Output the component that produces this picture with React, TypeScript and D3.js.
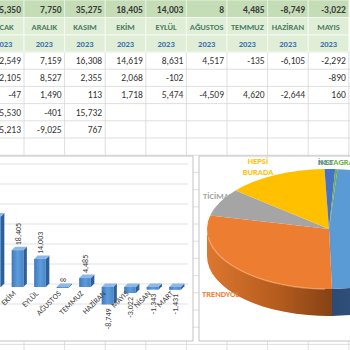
import * as d3 from 'd3';

// table (visible part of the sheet)
const months = ['OCAK', 'ARALIK', 'KASIM', 'EKİM', 'EYLÜL', 'AĞUSTOS', 'TEMMUZ', 'HAZİRAN', 'MAYIS'];
const totals = [55350, 7750, 35275, 18405, 14003, 8, 4485, -8749, -3022];
const years = ['2023', '2023', '2023', '2023', '2023', '2023', '2023', '2023', '2023'];
const rowA = [32549, 7159, 16308, 14619, 8631, 4517, -135, -6105, -2292];
const rowB = [12105, 8527, 2355, 2068, -102, null, null, null, -890];
const rowC = [-47, 1490, 113, 1718, 5474, -4509, 4620, -2644, 160];
const rowD = [5530, -401, 15732, null, null, null, null, null, null];
const rowE = [5213, -9025, 767, null, null, null, null, null, null];

// bar chart
const barCats = ['OCAK', 'ARALIK', 'KASIM', 'EKİM', 'EYLÜL', 'AĞUSTOS', 'TEMMUZ', 'HAZİRAN', 'MAYIS', 'NİSAN', 'MART'];
const barVals = [55350, 7750, 35275, 18405, 14003, 8, 4485, -8749, -3022, -1343, -1431];
const barTicks = [-10000, 0, 10000, 20000, 30000, 40000, 50000, 60000];

// pie chart
const pieNames = ['WEB SİTESİ', 'TRENDYOL', 'TİCİMAX', 'HEPSİ BURADA', 'N11', 'İNSTAGRAM'];
const pieVals = [48.5, 29, 7.5, 13.3, 1.4, 0.3];
const pieColors = ['#5b9bd5', '#ed7d31', '#a5a5a5', '#ffc000', '#4472c4', '#70ad47'];

const fmt = d3.formatLocale({ decimal: '.', thousands: ',', grouping: [3], currency: ['', ''], minus: '-' }).format(',');
const font = "Carlito, 'Liberation Sans Narrow', 'Roboto Condensed', Roboto, sans-serif";

const colW = 40.6;
const col0 = -16.6;
const rowH = 17.2;

const App = () => {
    const dataRows = [rowA, rowB, rowC, rowD, rowE];
    const hdrTop = [0, 17.5, 35];

    // bar scales
    const x = d3.scaleBand().domain(barCats).range([-59.75, 187.75]).paddingInner(0.48).paddingOuter(0.24);
    const y = d3.scaleLinear().domain([-10000, 60000]).range([304, 164]);
    const dep = 3.5;

    // pie geometry
    const cx = 329, cy = 229, rx = 122, ry = 60, depth = 27;
    const p = (a: number, dy = 0) => {
        const r = (a * Math.PI) / 180;
        return [cx + rx * Math.sin(r), cy - ry * Math.cos(r) + dy];
    };
    const total = d3.sum(pieVals);
    const start = 4;
    const slices = pieVals.map((v, i) => {
        const before = d3.sum(pieVals.slice(0, i));
        return { i, a0: start + (before / total) * 360, a1: start + ((before + v) / total) * 360 };
    });
    const topPath = (a0: number, a1: number) => {
        const [x0, y0] = p(a0);
        const [x1, y1] = p(a1);
        return `M${cx},${cy}L${x0},${y0}A${rx},${ry} 0 ${a1 - a0 > 180 ? 1 : 0} 1 ${x1},${y1}Z`;
    };
    const wallPath = (a0: number, a1: number) => {
        const s = Math.max(a0, 90), e = Math.min(a1, 270);
        if (e <= s) return null;
        const [x0, y0] = p(s);
        const [x1, y1] = p(e);
        return `M${x0},${y0}A${rx},${ry} 0 0 1 ${x1},${y1}L${x1},${y1 + depth}A${rx},${ry} 0 0 0 ${x0},${y0 + depth}Z`;
    };
    const wallFill = ['url(#wallBlue)', 'url(#wallOrange)', '#7c7c7c', '#bf9000', '#2f5597', '#507e32'];

    const colLines = d3.range(0, 10).map((i) => col0 + i * colW);
    const rowLines = d3.range(0, 21).map((i) => 52 + i * rowH);

    return (
        <svg width={350} height={350} style={{ position: 'absolute', left: 0, top: 0, background: '#fff' }}>
            <defs>
                <linearGradient id="wallOrange" gradientUnits="userSpaceOnUse" x1={207} x2={330} y1={0} y2={0}>
                    <stop offset="0" stopColor="#dc772f" />
                    <stop offset="0.6" stopColor="#b35a1d" />
                    <stop offset="1" stopColor="#874315" />
                </linearGradient>
                <linearGradient id="wallBlue" gradientUnits="userSpaceOnUse" x1={330} x2={450} y1={0} y2={0}>
                    <stop offset="0" stopColor="#2c4a72" />
                    <stop offset="1" stopColor="#3d6699" />
                </linearGradient>
                <linearGradient id="barFront" x1="0" x2="1" y1="0" y2="0">
                    <stop offset="0" stopColor="#3f78bd" />
                    <stop offset="0.5" stopColor="#5d9ddc" />
                    <stop offset="1" stopColor="#4a86c8" />
                </linearGradient>
            </defs>

            {/* sheet grid */}
            {colLines.map((cxl, i) => (
                <line key={'vc' + i} x1={cxl} x2={cxl} y1={52} y2={350} stroke="#d6d6d6" strokeWidth={0.8} />
            ))}
            {rowLines.map((ry2, i) => (
                <line key={'hr' + i} x1={0} x2={350} y1={ry2} y2={ry2} stroke="#d6d6d6" strokeWidth={0.8} />
            ))}

            {/* header rows */}
            {months.map((m, i) => {
                const x0 = col0 + i * colW;
                return (
                    <g key={'h' + i}>
                        <rect x={x0} y={hdrTop[0]} width={colW} height={17.5} fill="#c5ddb6" stroke="#e6f0de" strokeWidth={1} />
                        <rect x={x0} y={hdrTop[1]} width={colW} height={17.5} fill="#e0eed7" stroke="#f4f9f0" strokeWidth={1} />
                        <rect x={x0} y={hdrTop[2]} width={colW} height={17} fill="#e0eed7" stroke="#f4f9f0" strokeWidth={1} />
                        <text x={x0 + colW - 3} y={12.5} textAnchor="end" fontFamily={font} fontSize={9.5} fontWeight="bold" fill="#3c3c3c">
                            {fmt(totals[i])}
                        </text>
                        <text x={x0 + colW / 2} y={29.5} textAnchor="middle" fontFamily={font} fontSize={8.5} fontWeight="bold" fill="#4a7d63">
                            {m}
                        </text>
                        <text x={x0 + colW / 2} y={46.5} textAnchor="middle" fontFamily={font} fontSize={8.5} fontWeight="bold" fill="#3a72b0">
                            {years[i]}
                        </text>
                    </g>
                );
            })}

            {/* data rows */}
            {dataRows.map((row, r) =>
                row.map((v, i) =>
                    v === null ? null : (
                        <text key={'d' + r + '-' + i} x={col0 + (i + 1) * colW - 3} y={52 + r * rowH + 12} textAnchor="end" fontFamily={font} fontSize={9.5} fill="#333">
                            {fmt(v)}
                        </text>
                    )
                )
            )}

            {/* bar chart box */}
            <rect x={-5} y={156} width={198} height={185} fill="#fff" stroke="#c3c3c3" strokeWidth={1} />
            {barTicks.map((t) => (
                <line key={'g' + t} x1={-5} x2={188} y1={y(t)} y2={y(t)} stroke="#d9d9d9" strokeWidth={0.8} />
            ))}
            {barCats.map((c, i) => {
                const v = barVals[i];
                const bx = (x(c) as number) - 1.5;
                const bw = x.bandwidth();
                const yTop = Math.min(y(v), y(0)) + 3;
                const yBot = Math.max(y(v), y(0)) + 3;
                const h = Math.max(yBot - yTop, 1);
                const mid = bx + bw / 2;
                return (
                    <g key={'b' + c}>
                        <path d={`M${bx + bw},${yTop}L${bx + bw + dep},${yTop - dep}L${bx + bw + dep},${yTop + h - dep}L${bx + bw},${yTop + h}Z`} fill="#2f5f98" />
                        <path d={`M${bx},${yTop}L${bx + dep},${yTop - dep}L${bx + bw + dep},${yTop - dep}L${bx + bw},${yTop}Z`} fill="#8db8e8" />
                        <rect x={bx} y={yTop} width={bw} height={h} fill="url(#barFront)" />
                        {v >= 0 ? (
                            <text transform={`translate(${mid + 3},${yTop - 5}) rotate(-90)`} textAnchor="start" fontFamily={font} fontSize={8} fill="#404040">
                                {fmt(v)}
                            </text>
                        ) : (
                            <text transform={`translate(${mid + 3},${yBot + 4}) rotate(-90)`} textAnchor="end" fontFamily={font} fontSize={8} fill="#404040">
                                {fmt(v)}
                            </text>
                        )}
                        <text transform={`translate(${mid - 1},${y(0) + 10}) rotate(-45)`} textAnchor="end" fontFamily={font} fontSize={8} fill="#404040">
                            {c}
                        </text>
                    </g>
                );
            })}

            {/* pie chart box */}
            <rect x={199} y={156} width={160} height={185} fill="#fff" stroke="#c3c3c3" strokeWidth={1} />
            {slices.map((s) => {
                const d = wallPath(s.a0, s.a1);
                return d ? <path key={'w' + s.i} d={d} fill={wallFill[s.i]} /> : null;
            })}
            {slices.map((s) => (
                <path key={'t' + s.i} d={topPath(s.a0, s.a1)} fill={pieColors[s.i]} />
            ))}
            <path
                d={`M${p(182)[0]},${p(182)[1]}A${rx},${ry} 0 0 1 ${p(262)[0]},${p(262)[1]}`}
                fill="none"
                stroke="#f6a66c"
                strokeWidth={1.5}
                opacity={0.7}
            />
            <text x={203} y={199} fontFamily={font} fontSize={8.5} fontWeight="bold" fill={pieColors[2]}>
                {pieNames[2]}
            </text>
            <text x={258} y={164} textAnchor="middle" fontFamily={font} fontSize={8.5} fontWeight="bold" fill={pieColors[3]}>
                HEPSİ
            </text>
            <text x={258} y={175} textAnchor="middle" fontFamily={font} fontSize={8.5} fontWeight="bold" fill={pieColors[3]}>
                BURADA
            </text>
            <text x={202} y={297} fontFamily={font} fontSize={8.5} fontWeight="bold" fill={pieColors[1]}>
                {pieNames[1]}
            </text>
            <text x={318} y={165} fontFamily={font} fontSize={8.5} fontWeight="bold" fill={pieColors[5]}>
                {pieNames[5]}
            </text>
            <text x={318} y={165} fontFamily={font} fontSize={8.5} fontWeight="bold" fill={pieColors[4]} opacity={0.8}>
                {pieNames[4]}
            </text>
        </svg>
    );
};

export default App;
